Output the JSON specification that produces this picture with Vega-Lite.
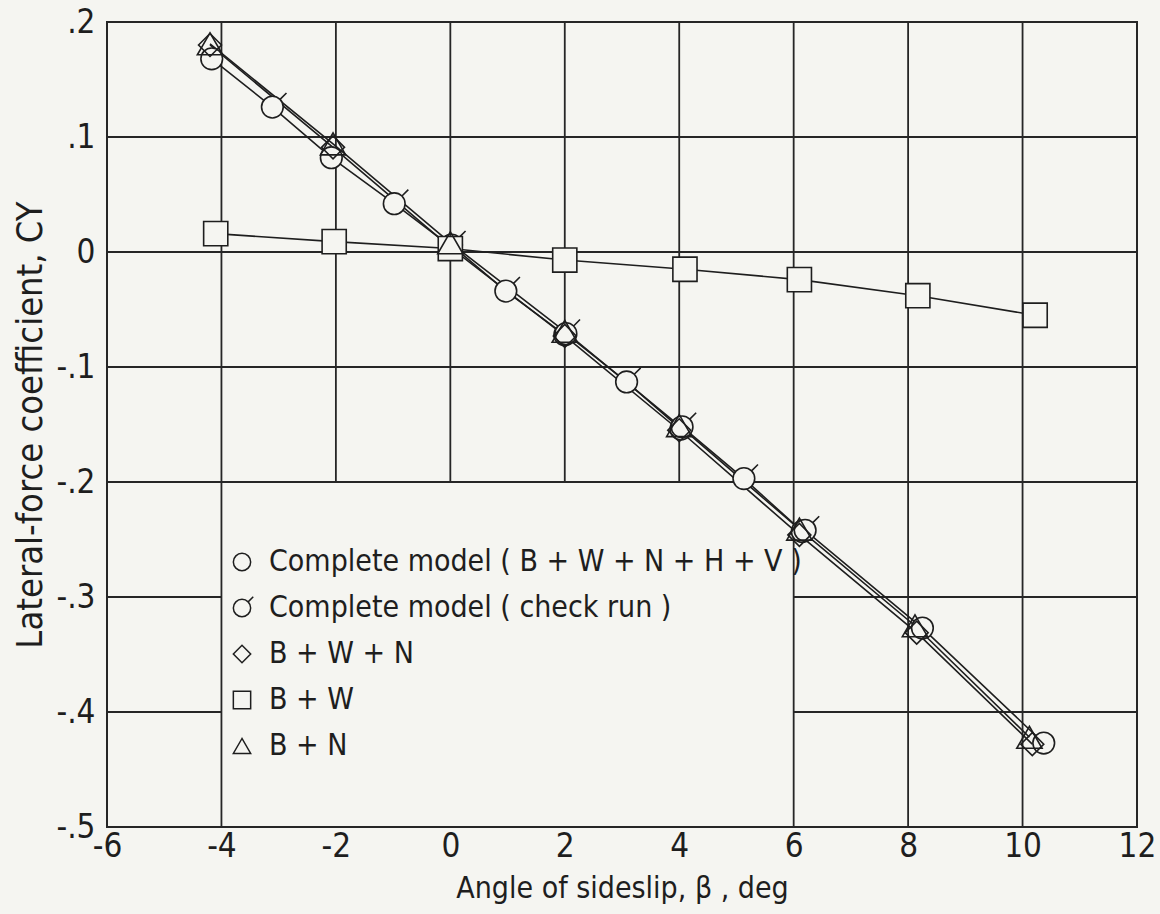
{
  "$schema": "https://vega.github.io/schema/vega-lite/v6.json",
  "width": 1030,
  "height": 805,
  "autosize": {"type": "none"},
  "padding": {"left": 107, "top": 22, "right": 23, "bottom": 87},
  "background": "#f5f5f1",
  "config": {
    "view": {"stroke": "#262626", "strokeWidth": 2},
    "axis": {
      "grid": false,
      "domain": false,
      "ticks": false,
      "labelFont": "DejaVu Sans Condensed, DejaVu Sans, sans-serif",
      "labelFontSize": 33,
      "labelColor": "#1e1e1e",
      "labelFlush": false,
      "labelOverlap": false,
      "titleFont": "DejaVu Sans Condensed, DejaVu Sans, sans-serif",
      "titleFontSize": 30,
      "titleFontWeight": "normal",
      "titleColor": "#1e1e1e"
    },
    "axisX": {"labelPadding": 3, "titlePadding": 10},
    "axisY": {"labelPadding": 12, "titlePadding": 6, "titleFontSize": 36},
    "legend": {"orient": "none"}
  },
  "datasets": {
    "grid": [
      {"x1": -4, "x2": -4, "y1": -0.5, "y2": 0.2},
      {"x1": -2, "x2": -2, "y1": -0.2, "y2": 0.2},
      {"x1": 0, "x2": 0, "y1": -0.2, "y2": 0.2},
      {"x1": 2, "x2": 2, "y1": -0.2, "y2": 0.2},
      {"x1": 4, "x2": 4, "y1": -0.2, "y2": 0.2},
      {"x1": 6, "x2": 6, "y1": -0.5, "y2": 0.2},
      {"x1": 8, "x2": 8, "y1": -0.5, "y2": 0.2},
      {"x1": 10, "x2": 10, "y1": -0.5, "y2": 0.2},
      {"x1": -6, "x2": 12, "y1": 0.1, "y2": 0.1},
      {"x1": -6, "x2": 12, "y1": 0, "y2": 0},
      {"x1": -6, "x2": 12, "y1": -0.1, "y2": -0.1},
      {"x1": -6, "x2": 12, "y1": -0.2, "y2": -0.2},
      {"x1": -6, "x2": -4, "y1": -0.3, "y2": -0.3},
      {"x1": 6, "x2": 12, "y1": -0.3, "y2": -0.3},
      {"x1": -6, "x2": -4, "y1": -0.4, "y2": -0.4},
      {"x1": 6, "x2": 12, "y1": -0.4, "y2": -0.4}
    ],
    "points": [
      {"series": "Complete model ( B + W + N + H + V )", "curve": "complete", "beta": -4.17, "cy": 0.168},
      {"series": "Complete model ( B + W + N + H + V )", "curve": "complete", "beta": -2.08, "cy": 0.082},
      {"series": "Complete model ( B + W + N + H + V )", "curve": "complete", "beta": 0.0, "cy": 0.005},
      {"series": "Complete model ( B + W + N + H + V )", "curve": "complete", "beta": 2.0, "cy": -0.072},
      {"series": "Complete model ( B + W + N + H + V )", "curve": "complete", "beta": 4.03, "cy": -0.154},
      {"series": "Complete model ( B + W + N + H + V )", "curve": "complete", "beta": 6.15, "cy": -0.243},
      {"series": "Complete model ( B + W + N + H + V )", "curve": "complete", "beta": 8.25, "cy": -0.327},
      {"series": "Complete model ( B + W + N + H + V )", "curve": "complete", "beta": 10.37, "cy": -0.427},
      {"series": "Complete model ( check run )", "curve": "complete", "beta": -3.11, "cy": 0.126},
      {"series": "Complete model ( check run )", "curve": "complete", "beta": -0.98, "cy": 0.042},
      {"series": "Complete model ( check run )", "curve": "complete", "beta": 0.02, "cy": 0.006},
      {"series": "Complete model ( check run )", "curve": "complete", "beta": 0.97, "cy": -0.034},
      {"series": "Complete model ( check run )", "curve": "complete", "beta": 2.02, "cy": -0.071},
      {"series": "Complete model ( check run )", "curve": "complete", "beta": 3.08, "cy": -0.113},
      {"series": "Complete model ( check run )", "curve": "complete", "beta": 4.05, "cy": -0.152},
      {"series": "Complete model ( check run )", "curve": "complete", "beta": 5.13, "cy": -0.197},
      {"series": "Complete model ( check run )", "curve": "complete", "beta": 6.2, "cy": -0.242},
      {"series": "B + W + N", "curve": "bwn", "beta": -4.2, "cy": 0.18},
      {"series": "B + W + N", "curve": "bwn", "beta": -2.05, "cy": 0.091},
      {"series": "B + W + N", "curve": "bwn", "beta": 0.0, "cy": 0.004},
      {"series": "B + W + N", "curve": "bwn", "beta": 2.0, "cy": -0.073},
      {"series": "B + W + N", "curve": "bwn", "beta": 4.0, "cy": -0.155},
      {"series": "B + W + N", "curve": "bwn", "beta": 6.1, "cy": -0.246},
      {"series": "B + W + N", "curve": "bwn", "beta": 8.15, "cy": -0.331},
      {"series": "B + W + N", "curve": "bwn", "beta": 10.17, "cy": -0.428},
      {"series": "B + W", "curve": "bw", "beta": -4.1, "cy": 0.016},
      {"series": "B + W", "curve": "bw", "beta": -2.03, "cy": 0.009},
      {"series": "B + W", "curve": "bw", "beta": 0.0, "cy": 0.003},
      {"series": "B + W", "curve": "bw", "beta": 2.0, "cy": -0.007},
      {"series": "B + W", "curve": "bw", "beta": 4.1, "cy": -0.015},
      {"series": "B + W", "curve": "bw", "beta": 6.1, "cy": -0.024},
      {"series": "B + W", "curve": "bw", "beta": 8.17, "cy": -0.038},
      {"series": "B + W", "curve": "bw", "beta": 10.22, "cy": -0.055},
      {"series": "B + N", "curve": "bn", "beta": -4.2, "cy": 0.181},
      {"series": "B + N", "curve": "bn", "beta": -2.05, "cy": 0.094},
      {"series": "B + N", "curve": "bn", "beta": 0.0, "cy": 0.008},
      {"series": "B + N", "curve": "bn", "beta": 2.0, "cy": -0.069},
      {"series": "B + N", "curve": "bn", "beta": 4.0, "cy": -0.151},
      {"series": "B + N", "curve": "bn", "beta": 6.1, "cy": -0.241},
      {"series": "B + N", "curve": "bn", "beta": 8.12, "cy": -0.325},
      {"series": "B + N", "curve": "bn", "beta": 10.12, "cy": -0.422}
    ]
  },
  "layer": [
    {
      "data": {"name": "grid"},
      "mark": {"type": "rule", "stroke": "#262626", "strokeWidth": 1.8},
      "encoding": {
        "x": {"field": "x1", "type": "quantitative", "title": "Angle of sideslip, β , deg",
              "scale": {"domain": [-6, 12], "nice": false, "zero": false},
              "axis": {"values": [-6, -4, -2, 0, 2, 4, 6, 8, 10, 12], "labelExpr": "replace(format(datum.value, 'd'), '−', '-')"}},
        "x2": {"field": "x2"},
        "y": {"field": "y1", "type": "quantitative", "title": "Lateral-force coefficient, CY",
              "scale": {"domain": [-0.5, 0.2], "nice": false, "zero": false},
              "axis": {"values": [-0.5, -0.4, -0.3, -0.2, -0.1, 0, 0.1, 0.2], "labelExpr": "datum.value == 0 ? '0' : replace(replace(format(datum.value, '.1f'), '0.', '.'), '−', '-')"}},
        "y2": {"field": "y2"}
      }
    },
    {
      "data": {"name": "points"},
      "mark": {"type": "line", "stroke": "#1e1e1e", "strokeWidth": 1.6},
      "encoding": {
        "x": {"field": "beta", "type": "quantitative", "title": "Angle of sideslip, β , deg"},
        "y": {"field": "cy", "type": "quantitative", "title": "Lateral-force coefficient, CY"},
        "detail": {"field": "curve", "type": "nominal"},
        "order": {"field": "beta", "type": "quantitative"}
      }
    },
    {
      "data": {"name": "points"},
      "mark": {"type": "point", "filled": true, "stroke": "#1e1e1e", "strokeWidth": 1.6, "opacity": 1},
      "encoding": {
        "x": {"field": "beta", "type": "quantitative", "title": "Angle of sideslip, β , deg"},
        "y": {"field": "cy", "type": "quantitative", "title": "Lateral-force coefficient, CY"},
        "shape": {
          "field": "series", "type": "nominal",
          "scale": {
            "domain": ["Complete model ( B + W + N + H + V )", "Complete model ( check run )", "B + W + N", "B + W", "B + N"],
            "range": ["circle", "M -1 0 A 1 1 0 1 1 1 0 A 1 1 0 1 1 -1 0 Z M 0.71 -0.71 L 1.3 -1.3", "diamond", "square", "triangle-up"]
          },
          "legend": {
            "title": null,
            "orient": "none",
            "legendX": 120,
            "legendY": 525,
            "padding": 0,
            "labelFont": "DejaVu Sans Condensed, DejaVu Sans, sans-serif",
            "labelFontSize": 30,
            "labelColor": "#1e1e1e",
            "labelLimit": 800,
            "labelOffset": 12,
            "symbolSize": 300,
            "rowPadding": 16,
            "encode": {
              "symbols": {
                "update": {
                  "fill": {"value": "transparent"},
                  "stroke": {"value": "#1e1e1e"},
                  "strokeWidth": {"value": 1.5},
                  "opacity": {"value": 1},
                  "size": {"value": 300}
                }
              }
            }
          }
        },
        "size": {
          "field": "curve", "type": "nominal",
          "scale": {"domain": ["complete", "bwn", "bw", "bn"], "range": [470, 640, 380, 470]},
          "legend": null
        },
        "fill": {
          "condition": {"test": "datum.series == 'B + W + N' || datum.series == 'B + N'", "value": "transparent"},
          "value": "#f5f5f1"
        }
      }
    }
  ]
}
